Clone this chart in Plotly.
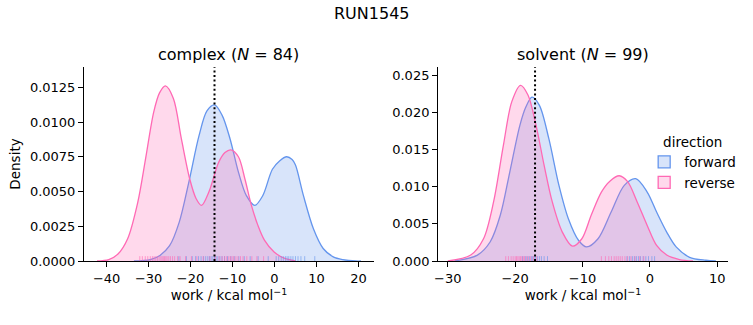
import plotly.graph_objects as go

# ---------------- data ----------------
# complex phase: KDE density readings
cplx_fwd_x = [-33.5, -29.6, -27.3, -25.0, -22.7, -20.4, -18.0, -16.1, -14.3, -12.5, -10.6, -8.6,
              -6.7, -4.7, -2.8, -0.5, 1.2, 2.9, 4.2, 5.0, 6.9, 9.3, 11.6, 14.0, 16.3, 19.4, 20.6]
cplx_fwd_y = [0.0, 0.0001, 0.0004, 0.0011, 0.0028, 0.0057, 0.0090, 0.0108, 0.01123, 0.0105, 0.0088, 0.0064,
              0.0047, 0.0040, 0.0047, 0.0066, 0.0072, 0.0075, 0.0073, 0.0069, 0.0047, 0.0023, 0.0009, 0.0003,
              0.0001, 0.0, 0.0]
cplx_rev_x = [-42.3, -39.5, -37.3, -35.0, -32.6, -30.7, -28.8, -27.4, -26.0, -24.1, -22.2, -20.2, -18.7, -17.4,
              -15.6, -13.3, -11.8, -10.4, -8.6, -7.05, -5.5, -4.0, -2.4, -0.1, 2.3, 5.0]
cplx_rev_y = [0.0, 0.0001, 0.0005, 0.0016, 0.0042, 0.0074, 0.0107, 0.0121, 0.0126, 0.0117, 0.0088, 0.0059, 0.0045,
              0.0040, 0.0050, 0.0071, 0.0078, 0.0080, 0.0075, 0.0059, 0.0040, 0.0026, 0.0015, 0.00065, 0.0002, 0.0]
# solvent phase: KDE density readings
solv_fwd_x = [-29.0, -25.6, -23.7, -22.2, -20.8, -19.3, -18.4, -17.5, -16.4, -15.0, -13.5, -12.1, -10.6, -9.4,
              -7.7, -5.75, -3.8, -2.1, -0.4, 1.0, 2.5, 3.9, 5.9, 8.3, 9.8]
solv_fwd_y = [0.0, 0.0008, 0.0026, 0.0062, 0.0120, 0.0183, 0.0208, 0.0221, 0.0210, 0.0165, 0.0102, 0.0057, 0.0028,
              0.0019, 0.0030, 0.0066, 0.0102, 0.0111, 0.0093, 0.0066, 0.0039, 0.0019, 0.0005, 0.0001, 0.0]
solv_rev_x = [-30.0, -26.6, -24.7, -23.2, -21.75, -20.5, -19.2, -18.1, -16.9, -15.7, -14.5, -13.0, -11.5,
              -10.1, -8.7, -7.2, -5.9, -4.55, -3.3, -1.9, -0.4, 1.0, 2.5, 4.4, 6.4]
solv_rev_y = [0.0, 0.0008, 0.0030, 0.0080, 0.0156, 0.0215, 0.0237, 0.0224, 0.0183, 0.0129, 0.0080, 0.0039, 0.0020,
              0.0030, 0.0062, 0.0093, 0.0108, 0.0115, 0.0107, 0.0080, 0.0048, 0.0021, 0.0008, 0.0002, 0.0]

# individual work values (rug)
cplx_fwd_rug = [-22.8, -21.0, -19.6, -18.8, -18.1, -17.5, -16.9, -16.4, -15.9, -15.5, -15.1, -14.7, -14.3,
                -13.9, -13.5, -13.0, -12.5, -11.9, -11.2, -10.4, -9.6, -8.5, -7.2, -5.8, -3.9, -1.5, 0.4,
                1.0, 1.6, 2.1, 2.6, 3.0, 3.4, 3.9, 4.4, 5.0, 5.6, 6.3, 7.2, 9.6]
cplx_rev_rug = [-32.1, -31.5, -30.8, -30.2, -29.6, -29.1, -28.7, -28.3, -27.9, -27.5, -27.1, -26.8, -26.5,
                -26.2, -25.9, -25.6, -25.2, -24.8, -24.3, -23.8, -23.1, -22.5, -21.2, -19.8, -18.5, -17.0,
                -15.4, -14.1, -13.2, -12.5, -11.9, -11.4, -10.9, -10.5, -10.1, -9.7, -9.2, -8.7, -8.1,
                -7.5, -6.6, -5.4, -4.2, -2.6]
solv_fwd_rug = [-18.9, -18.5, -18.2, -17.9, -17.6, -17.4, -17.2, -17.0, -16.7, -16.4, -16.1, -15.7, -15.2,
                -3.4, -3.0, -2.6, -2.3, -2.0, -1.7, -1.4, -1.0, -0.6, -0.2, 0.3, 0.7]
solv_rev_rug = [-21.4, -21.0, -20.6, -20.3, -20.0, -19.8, -19.6, -19.4, -19.2, -19.0, -18.8, -18.6, -18.3,
                -18.0, -17.7, -17.3, -16.8, -7.2, -6.6, -6.1, -5.7, -5.3, -5.0, -4.7, -4.4, -4.1, -3.7,
                -3.3, -2.8, -2.2, -1.5, -0.9]

# free-energy estimate markers (dotted lines)
cplx_dg = -14.3
solv_dg = -17.05

panel_titles = ["complex (<i>N</i> = 84)", "solvent (<i>N</i> = 99)"]
suptitle = "RUN1545"
directions = ["forward", "reverse"]

cplx_xticks = [-40, -30, -20, -10, 0, 10, 20]
solv_xticks = [-30, -20, -10, 0, 10]
cplx_yticks = [0.0, 0.0025, 0.005, 0.0075, 0.01, 0.0125]
solv_yticks = [0.0, 0.005, 0.01, 0.015, 0.02, 0.025]

# ---------------- styling ----------------
FONT = "DejaVu Sans"
TICK_SIZE = 13
LABEL_SIZE = 13.5
TITLE_SIZE = 16
BLUE = "#6495ED"
PINK = "#FF69B4"
BLUE_FILL = "rgba(100,149,237,0.25)"
PINK_FILL = "rgba(255,105,180,0.25)"
BLUE_RUG = "rgba(100,149,237,0.6)"
PINK_RUG = "rgba(255,105,180,0.6)"

cplx_xrange = [-45.4, 23.7]
solv_xrange = [-31.45, 11.6]
cplx_yrange = [0, 0.01396]
solv_yrange = [0, 0.02617]

W, H = 753, 325
ML, MR, MT, MB = 84, 16, 67, 64
pw = W - ML - MR
dom1 = [0, (378 - ML) / pw]
dom2 = [(443 - ML) / pw, 1]


def minus(v):
    s = f"{v:g}"
    return s.replace("-", "\u2212")


def rug_xy(vals, h):
    xs, ys = [], []
    for v in vals:
        xs += [v, v, None]
        ys += [0, h, None]
    return xs, ys


fig = go.Figure()

panels = [
    ("x", "y", cplx_fwd_x, cplx_fwd_y, cplx_rev_x, cplx_rev_y, cplx_fwd_rug, cplx_rev_rug, cplx_dg, cplx_yrange),
    ("x2", "y2", solv_fwd_x, solv_fwd_y, solv_rev_x, solv_rev_y, solv_fwd_rug, solv_rev_rug, solv_dg, solv_yrange),
]

for xa, ya, fx, fy, rx, ry, frug, rrug, dg, yr in panels:
    fig.add_trace(go.Scatter(x=fx, y=fy, xaxis=xa, yaxis=ya, mode="lines",
                             line=dict(color=BLUE, width=1.3, shape="spline", smoothing=0.9),
                             fill="tozeroy", fillcolor=BLUE_FILL, showlegend=False, hoverinfo="skip"))
    fig.add_trace(go.Scatter(x=rx, y=ry, xaxis=xa, yaxis=ya, mode="lines",
                             line=dict(color=PINK, width=1.3, shape="spline", smoothing=0.9),
                             fill="tozeroy", fillcolor=PINK_FILL, showlegend=False, hoverinfo="skip"))
    h = 0.025 * yr[1]
    rxs, rys = rug_xy(frug, h)
    fig.add_trace(go.Scatter(x=rxs, y=rys, xaxis=xa, yaxis=ya, mode="lines",
                             line=dict(color=BLUE_RUG, width=1), showlegend=False, hoverinfo="skip"))
    rxs, rys = rug_xy(rrug, h)
    fig.add_trace(go.Scatter(x=rxs, y=rys, xaxis=xa, yaxis=ya, mode="lines",
                             line=dict(color=PINK_RUG, width=1), showlegend=False, hoverinfo="skip"))
    fig.add_trace(go.Scatter(x=[dg, dg], y=[yr[0], yr[1]], xaxis=xa, yaxis=ya, mode="lines",
                             line=dict(color="black", width=2, dash="2px,2.6px"),
                             showlegend=False, hoverinfo="skip"))

# legend entries
for name, fc, lc in [(directions[0], BLUE_FILL, BLUE), (directions[1], PINK_FILL, PINK)]:
    fig.add_trace(go.Bar(x=[None], y=[None], xaxis="x2", yaxis="y2", name=name,
                         marker=dict(color=fc, line=dict(color=lc, width=1.3))))

axis_common = dict(showgrid=False, zeroline=False, showline=True, linecolor="black", linewidth=1,
                   ticks="outside", ticklen=5, tickwidth=1, tickcolor="black",
                   tickfont=dict(family=FONT, size=TICK_SIZE, color="black"))

xtitle = dict(text="work / kcal mol<sup>\u22121</sup>", font=dict(family=FONT, size=LABEL_SIZE, color="black"),
              standoff=5)

fig.update_layout(
    width=W, height=H,
    margin=dict(l=ML, r=MR, t=MT, b=MB),
    paper_bgcolor="white", plot_bgcolor="white",
    font=dict(family=FONT, color="black"),
    xaxis=dict(domain=dom1, range=cplx_xrange, anchor="y", tickvals=cplx_xticks,
               ticktext=[minus(v) for v in cplx_xticks], title=xtitle, **axis_common),
    yaxis=dict(domain=[0, 1], range=cplx_yrange, anchor="x", tickvals=cplx_yticks,
               ticktext=[f"{v:.4f}" for v in cplx_yticks],
               title=dict(text="Density", font=dict(family=FONT, size=LABEL_SIZE, color="black"), standoff=6),
               **axis_common),
    xaxis2=dict(domain=dom2, range=solv_xrange, anchor="y2", tickvals=solv_xticks,
                ticktext=[minus(v) for v in solv_xticks], title=xtitle, **axis_common),
    yaxis2=dict(domain=[0, 1], range=solv_yrange, anchor="x2", tickvals=solv_yticks,
                ticktext=[f"{v:.3f}" for v in solv_yticks], **axis_common),
    legend=dict(x=(652 - ML) / pw, y=(261 - 129) / 194, xanchor="left", yanchor="top",
                bgcolor="rgba(0,0,0,0)", font=dict(family=FONT, size=LABEL_SIZE, color="black"),
                title=dict(text="direction", side="top center", font=dict(family=FONT, size=LABEL_SIZE)),
                tracegroupgap=0, itemwidth=30),
    showlegend=True,
    annotations=[
        dict(text=panel_titles[0], x=(dom1[0] + dom1[1]) / 2, y=(261 - 54) / 194, xref="paper", yref="paper",
             showarrow=False, xanchor="center", yanchor="middle", font=dict(family=FONT, size=TITLE_SIZE, color="black")),
        dict(text=panel_titles[1], x=(dom2[0] + dom2[1]) / 2, y=(261 - 54) / 194, xref="paper", yref="paper",
             showarrow=False, xanchor="center", yanchor="middle", font=dict(family=FONT, size=TITLE_SIZE, color="black")),
        dict(text=suptitle, x=(376 - ML) / pw, y=(261 - 13) / 194, xref="paper", yref="paper",
             showarrow=False, xanchor="center", yanchor="middle", font=dict(family=FONT, size=TITLE_SIZE, color="black")),
    ],
)

fig.write_html("out.html")
